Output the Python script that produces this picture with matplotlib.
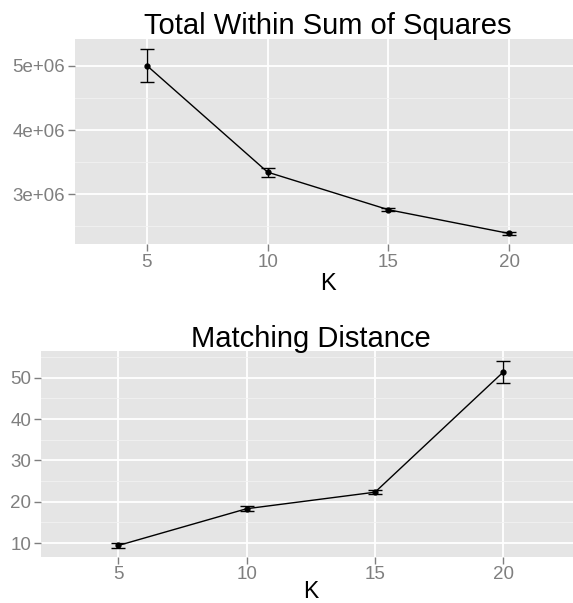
import numpy as np
import matplotlib
matplotlib.use('Agg')
import matplotlib.pyplot as plt
from matplotlib.ticker import FixedLocator, FuncFormatter

# data
k_values = [5, 10, 15, 20]
wss_mean = [5.005e6, 3.345e6, 2.76e6, 2.39e6]
wss_err = [0.257e6, 0.07e6, 0.02e6, 0.025e6]
md_mean = [9.4, 18.3, 22.3, 51.4]
md_err = [0.6, 0.6, 0.5, 2.7]

wss_ticks = [3e6, 4e6, 5e6]
wss_minor = [2.5e6, 3.5e6, 4.5e6]
md_ticks = [10, 20, 30, 40, 50]
md_minor = [5, 15, 25, 35, 45, 55]

plt.rcParams['font.family'] = ['Liberation Sans', 'DejaVu Sans']

W, H = 573, 603
fig = plt.figure(figsize=(W / 100, H / 100), dpi=100)


def px_axes(left, top, right, bottom):
    return fig.add_axes([left / W, 1 - bottom / H, (right - left) / W, (bottom - top) / H])


def style(ax, yticks, yminor, fmt):
    ax.set_facecolor('#E5E5E5')
    for s in ax.spines.values():
        s.set_visible(False)
    ax.set_xticks(k_values)
    ax.set_yticks(yticks)
    ax.yaxis.set_minor_locator(FixedLocator(yminor))
    ax.yaxis.set_major_formatter(FuncFormatter(fmt))
    ax.grid(True, which='major', color='white', linewidth=1.3)
    ax.grid(True, which='minor', axis='y', color='#F2F2F2', linewidth=0.6)
    ax.set_axisbelow(True)
    ax.tick_params(axis='both', which='major', colors='#7F7F7F', labelcolor='#7F7F7F',
                   labelsize=13.5, length=5, width=1, pad=2)
    ax.tick_params(axis='y', which='minor', length=0)


def sci(v, pos):
    return '%de+06' % round(v / 1e6)


# top panel
ax1 = px_axes(75, 39, 573, 244.3)
ax1.errorbar(k_values, wss_mean, yerr=wss_err, color='black', linewidth=1,
             elinewidth=1, capsize=4.7, capthick=1, marker='o', markersize=3.5)
ax1.set_xlim(2.02, 22.65)
ax1.set_ylim(2.221e6, 5.42e6)
style(ax1, wss_ticks, wss_minor, sci)
fig.text(328 / W, 1 - 34.3 / H, 'Total Within Sum of Squares', ha='center', va='baseline', fontsize=21)
fig.text(328 / W, 1 - 290 / H, 'K', ha='center', va='baseline', fontsize=17)

# bottom panel
ax2 = px_axes(41, 351, 573, 556.7)
ax2.errorbar(k_values, md_mean, yerr=md_err, color='black', linewidth=1,
             elinewidth=1, capsize=4.7, capthick=1, marker='o', markersize=3.5)
ax2.set_xlim(1.99, 22.71)
ax2.set_ylim(6.69, 56.46)
style(ax2, md_ticks, md_minor, lambda v, pos: '%d' % v)
fig.text(311 / W, 1 - 346.7 / H, 'Matching Distance', ha='center', va='baseline', fontsize=21)
fig.text(311 / W, 1 - 597.5 / H, 'K', ha='center', va='baseline', fontsize=16.5)

fig.savefig('out.png', dpi=100, facecolor='white')
